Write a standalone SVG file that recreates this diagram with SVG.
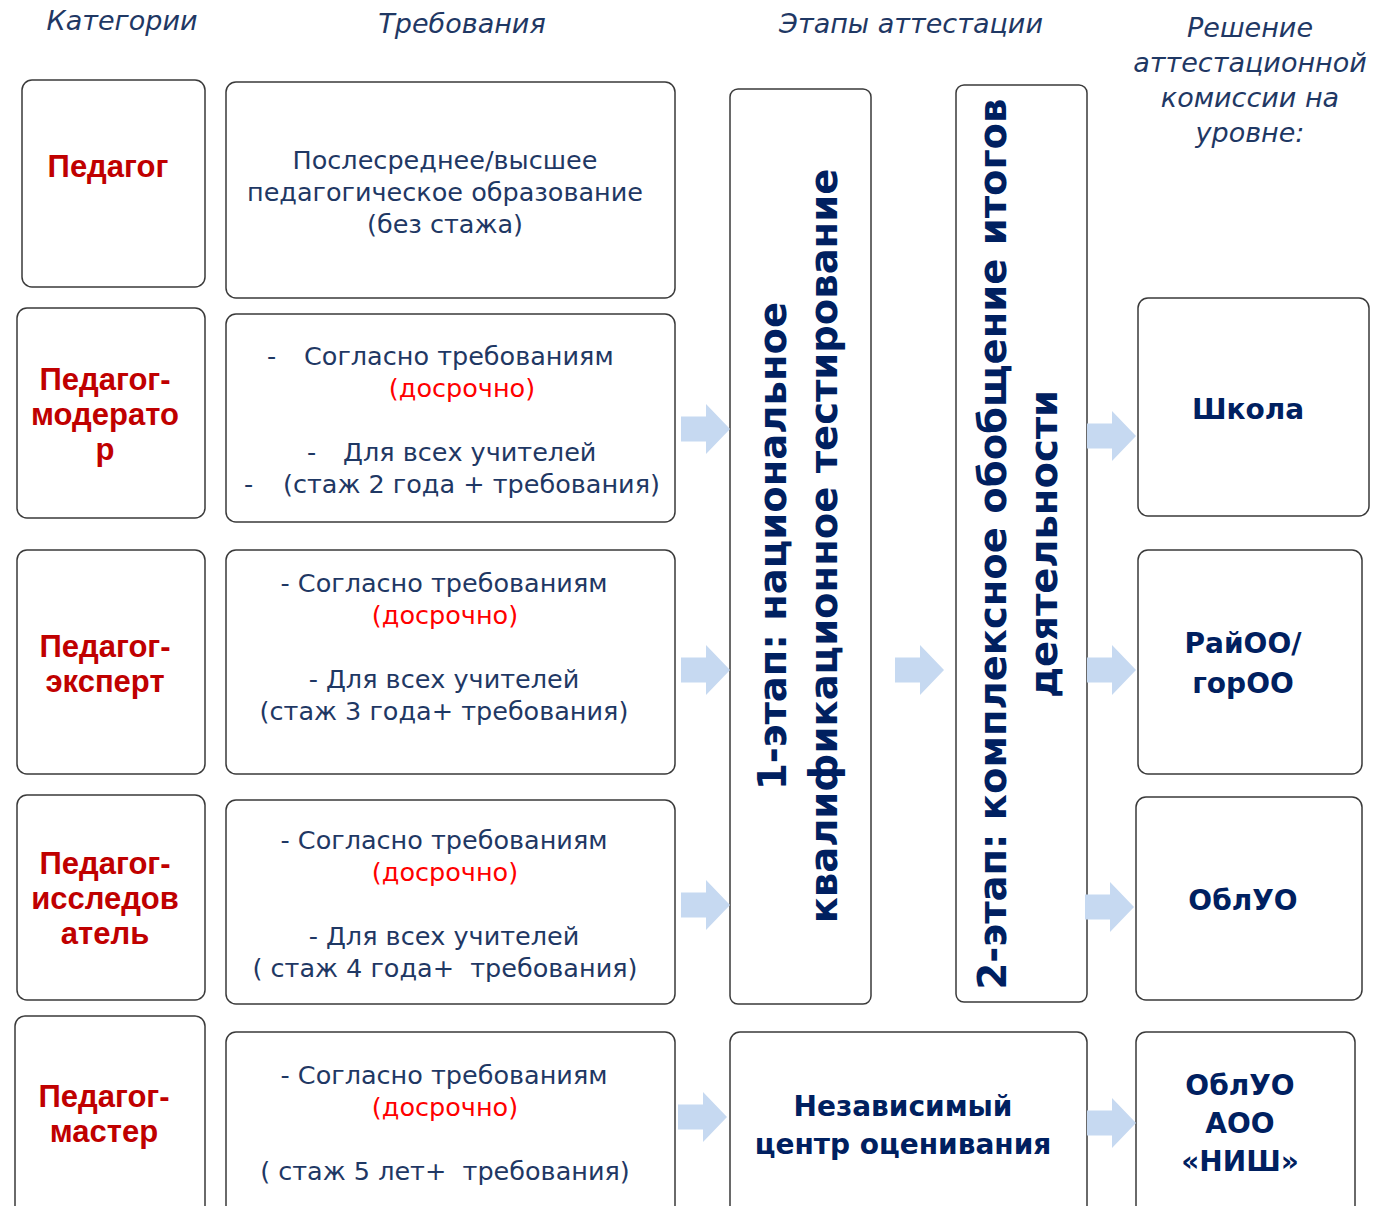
<svg xmlns="http://www.w3.org/2000/svg" width="1380" height="1206" viewBox="0 0 1380 1206">
<style>
.box{fill:#fff;stroke:#3a3a3a;stroke-width:1.5}
.hdr{font-family:"DejaVu Sans",sans-serif;font-style:italic;font-size:27px;fill:#1F3864;text-anchor:middle}
.cat{font-family:"Liberation Sans",Arial,sans-serif;font-weight:bold;font-size:31px;fill:#C00000;text-anchor:middle}
.req{font-family:"DejaVu Sans",sans-serif;font-size:25.5px;fill:#1F3864;white-space:pre}
.mid{text-anchor:middle}
.red{fill:#FF0000}
.bold{font-family:"DejaVu Sans",sans-serif;font-weight:bold;font-size:28px;fill:#002060;text-anchor:middle}
.vert{font-family:"DejaVu Sans",sans-serif;font-weight:bold;font-size:38.5px;fill:#002060;text-anchor:middle}
.arr{fill:#C6D9F1}
</style>
<defs>
<polygon id="arrow" points="0,-12.5 25,-12.5 25,-25 49,0 25,25 25,12.5 0,12.5"/>
</defs>
<rect width="1380" height="1206" fill="#fff"/>

<g id="headers">
<text class="hdr" x="122" y="30">Категории</text>
<text class="hdr" x="462" y="33">Требования</text>
<text class="hdr" x="911" y="33">Этапы аттестации</text>
<text class="hdr" x="1250" y="37">Решение</text>
<text class="hdr" x="1250" y="72">аттестационной</text>
<text class="hdr" x="1250" y="107">комиссии на</text>
<text class="hdr" x="1250" y="142">уровне:</text>
</g>

<g id="cat-pedagog">
<rect class="box" x="22" y="80" width="183" height="207" rx="10"/>
<text class="cat" x="108" y="177">Педагог</text>
</g>
<g id="cat-moderator">
<rect class="box" x="17" y="308" width="188" height="210" rx="10"/>
<text class="cat" x="105" y="390">Педагог-</text>
<text class="cat" x="105" y="425">модерато</text>
<text class="cat" x="105" y="460">р</text>
</g>
<g id="cat-expert">
<rect class="box" x="17" y="550" width="188" height="224" rx="10"/>
<text class="cat" x="105" y="657">Педагог-</text>
<text class="cat" x="105" y="692">эксперт</text>
</g>
<g id="cat-researcher">
<rect class="box" x="17" y="795" width="188" height="205" rx="10"/>
<text class="cat" x="105" y="874">Педагог-</text>
<text class="cat" x="105" y="909">исследов</text>
<text class="cat" x="105" y="944">атель</text>
</g>
<g id="cat-master">
<rect class="box" x="15" y="1016" width="190" height="210" rx="10"/>
<text class="cat" x="104" y="1107">Педагог-</text>
<text class="cat" x="104" y="1142">мастер</text>
</g>

<g id="req-1">
<rect class="box" x="226" y="82" width="449" height="216" rx="10"/>
<text class="req mid" x="445" y="169">Послесреднее/высшее</text>
<text class="req mid" x="445" y="201">педагогическое образование</text>
<text class="req mid" x="445" y="233">(без стажа)</text>
</g>
<g id="req-2">
<rect class="box" x="226" y="314" width="449" height="208" rx="10"/>
<text class="req" y="365"><tspan x="267">-</tspan><tspan x="304">Согласно требованиям</tspan></text>
<text class="req mid red" x="462" y="397">(досрочно)</text>
<text class="req" y="461"><tspan x="307">-</tspan><tspan x="343">Для всех учителей</tspan></text>
<text class="req" y="493"><tspan x="244">-</tspan><tspan x="283">(стаж 2 года + требования)</tspan></text>
</g>
<g id="req-3">
<rect class="box" x="226" y="550" width="449" height="224" rx="10"/>
<text class="req mid" x="444" y="592">- Согласно требованиям</text>
<text class="req mid red" x="445" y="624">(досрочно)</text>
<text class="req mid" x="444" y="688">- Для всех учителей</text>
<text class="req mid" x="444" y="720">(стаж 3 года+ требования)</text>
</g>
<g id="req-4">
<rect class="box" x="226" y="800" width="449" height="204" rx="10"/>
<text class="req mid" x="444" y="849">- Согласно требованиям</text>
<text class="req mid red" x="445" y="881">(досрочно)</text>
<text class="req mid" x="444" y="945">- Для всех учителей</text>
<text class="req mid" x="445" y="977" xml:space="preserve">( стаж 4 года+  требования)</text>
</g>
<g id="req-5">
<rect class="box" x="226" y="1032" width="449" height="200" rx="10"/>
<text class="req mid" x="444" y="1084">- Согласно требованиям</text>
<text class="req mid red" x="445" y="1116">(досрочно)</text>
<text class="req mid" x="445" y="1180" xml:space="preserve">( стаж 5 лет+  требования)</text>
</g>

<g id="stage-1">
<rect class="box" x="730" y="89" width="141" height="915" rx="8"/>
<g transform="translate(811,546) rotate(-90)">
<text class="vert" x="0" y="-25">1-этап: национальное</text>
<text class="vert" x="0" y="26">квалификационное тестирование</text>
</g>
</g>
<g id="stage-2">
<rect class="box" x="956" y="85" width="131" height="917" rx="8"/>
<g transform="translate(1031,544) rotate(-90)">
<text class="vert" x="0" y="-25">2-этап: комплексное обобщение итогов</text>
<text class="vert" x="0" y="26">деятельности</text>
</g>
</g>
<g id="nco">
<rect class="box" x="730" y="1032" width="357" height="200" rx="10"/>
<text class="bold" x="903" y="1116">Независимый</text>
<text class="bold" x="903" y="1154">центр оценивания</text>
</g>

<g id="dec-school">
<rect class="box" x="1138" y="298" width="231" height="218" rx="10"/>
<text class="bold" x="1248" y="419">Школа</text>
</g>
<g id="dec-rayoo">
<rect class="box" x="1138" y="550" width="224" height="224" rx="10"/>
<text class="bold" x="1243" y="653">РайОО/</text>
<text class="bold" x="1243" y="693">горОО</text>
</g>
<g id="dec-obluo">
<rect class="box" x="1136" y="797" width="226" height="203" rx="10"/>
<text class="bold" x="1243" y="910">ОблУО</text>
</g>
<g id="dec-nish">
<rect class="box" x="1136" y="1032" width="219" height="200" rx="10"/>
<text class="bold" x="1240" y="1095">ОблУО</text>
<text class="bold" x="1240" y="1133">АОО</text>
<text class="bold" x="1240" y="1171">«НИШ»</text>
</g>

<g id="connectors" class="arr">
<use href="#arrow" x="681" y="429"/>
<use href="#arrow" x="681" y="670"/>
<use href="#arrow" x="681" y="905"/>
<use href="#arrow" x="678" y="1117"/>
<use href="#arrow" x="895" y="670"/>
<use href="#arrow" x="1087" y="436"/>
<use href="#arrow" x="1087" y="670"/>
<use href="#arrow" x="1085" y="907"/>
<use href="#arrow" x="1087" y="1123"/>
</g>
</svg>
